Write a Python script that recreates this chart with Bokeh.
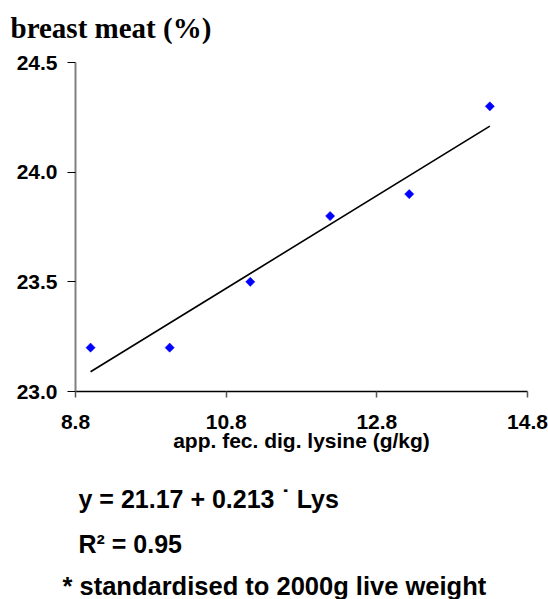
import math
from bokeh.plotting import figure
from bokeh.layouts import column
from bokeh.models import Range1d, FixedTicker, Label, PrintfTickFormatter, ColumnDataSource
from bokeh.embed import file_html
from bokeh.resources import INLINE

# ---- data ----
lysine = [9.0, 10.05, 11.12, 12.18, 13.23, 14.30]
breast_meat = [23.2, 23.2, 23.5, 23.8, 23.9, 24.3]
fit_x = [9.0, 14.3]
fit_y = [23.09, 24.21]
x_ticks = [8.8, 10.8, 12.8, 14.8]
y_ticks = [23.0, 23.5, 24.0, 24.5]
title_text = "breast meat (%)"
x_label = "app. fec. dig. lysine (g/kg)"
equation = "y = 21.17 + 0.213 \u02d9 Lys"
r_squared = "R\u00b2 = 0.95"
footnote = "* standardised to 2000g live weight"

W = 548
TOP_H, MAIN_H, BOT_H = 50, 421, 128
SANS = "Liberation Sans"


def text_panel(h):
    f = figure(width=W, height=h, output_backend="svg", toolbar_location=None,
               x_axis_type=None, y_axis_type=None, min_border=0, frame_align=False)
    f.outline_line_color = None
    f.background_fill_color = "white"
    f.border_fill_color = "white"
    return f


def add_text(f, txt, x, y_from_bottom, font, size, style="bold"):
    f.add_layout(Label(x=x, y=y_from_bottom, x_units="screen", y_units="screen", text=txt,
                       text_font=font, text_font_style=style, text_font_size=size,
                       text_color="black", text_baseline="alphabetic", text_align="left"))


# ---- title panel ----
top = text_panel(TOP_H)
add_text(top, title_text, 10, 23, "Liberation Serif", "29px")

# ---- main chart ----
p = figure(width=W, height=MAIN_H, output_backend="svg", toolbar_location=None,
           x_range=Range1d(x_ticks[0], x_ticks[-1]), y_range=Range1d(y_ticks[0], y_ticks[-1]),
           min_border_left=75, min_border_right=21, min_border_top=12, min_border_bottom=80,
           frame_align=False)
p.outline_line_color = None
p.xgrid.visible = False
p.ygrid.visible = False
p.background_fill_color = "white"
p.border_fill_color = "white"

xa = p.xaxis[0]
xa.ticker = FixedTicker(ticks=x_ticks)
xa.formatter = PrintfTickFormatter(format="%.1f")
xa.axis_line_color = "black"
xa.axis_line_width = 1.5
xa.major_tick_out = 6
xa.major_tick_in = 0
xa.minor_tick_out = 0
xa.minor_tick_in = 0
xa.major_tick_line_color = "#555555"
xa.major_tick_line_width = 1.5
xa.major_label_text_font = SANS
xa.major_label_text_font_style = "bold"
xa.major_label_text_font_size = "21px"
xa.major_label_text_color = "black"
xa.major_label_standoff = 17
xa.axis_label = x_label
xa.axis_label_text_font = SANS
xa.axis_label_text_font_style = "bold"
xa.axis_label_text_font_size = "21px"
xa.axis_label_text_color = "black"
xa.axis_label_standoff = -3

ya = p.yaxis[0]
ya.ticker = FixedTicker(ticks=y_ticks)
ya.formatter = PrintfTickFormatter(format="%.1f")
ya.axis_line_color = "#808080"
ya.axis_line_width = 2
ya.major_tick_out = 8
ya.major_tick_in = 0
ya.minor_tick_out = 0
ya.minor_tick_in = 0
ya.major_tick_line_color = "black"
ya.major_tick_line_width = 1.2
ya.major_label_text_font = SANS
ya.major_label_text_font_style = "bold"
ya.major_label_text_font_size = "21px"
ya.major_label_text_color = "black"
ya.major_label_standoff = 10

src = ColumnDataSource(dict(x=lysine, y=breast_meat))
p.scatter("x", "y", source=src, marker="square", size=6.5, angle=math.pi / 4,
          fill_color="#0000FF", line_color="#0000FF", line_width=0.5)
p.line(fit_x, fit_y, line_color="black", line_width=1.6)

# ---- notes panel ----
bot = text_panel(BOT_H)
add_text(bot, equation, 78, 101, SANS, "25px")
add_text(bot, r_squared, 78, 56, SANS, "25px")
add_text(bot, footnote, 62, 14, SANS, "25.5px")

layout = column(top, p, bot, spacing=0)
open("out.html", "w").write(file_html(layout, INLINE))
